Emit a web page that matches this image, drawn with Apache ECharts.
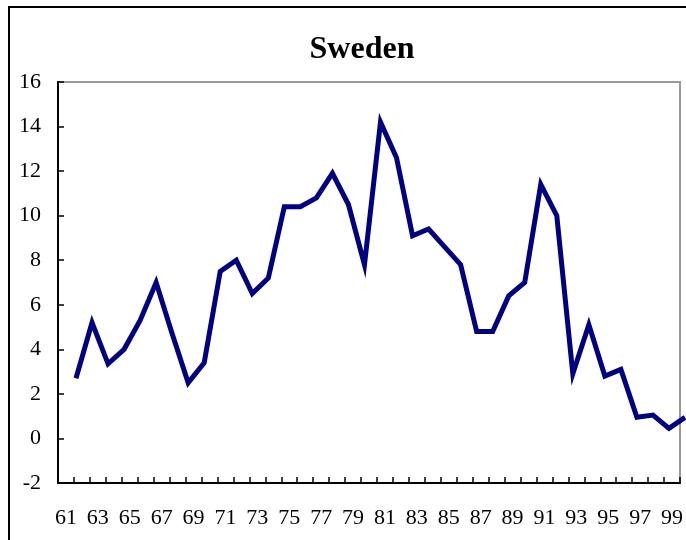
<!DOCTYPE html>
<html>
<head>
<meta charset="utf-8">
<script src="https://cdn.jsdelivr.net/npm/echarts@6/dist/echarts.min.js"></script>
<style>
  html, body { margin: 0; padding: 0; background: #fff; }
  #box { width: 686px; height: 540px; }
</style>
</head>
<body>
<div id="box"></div>
<script>
// years shown on the axis (two-digit)
var years = ['61','62','63','64','65','66','67','68','69','70','71','72','73','74','75','76','77','78','79','80',
             '81','82','83','84','85','86','87','88','89','90','91','92','93','94','95','96','97','98','99'];
// Sweden, values
var sweden = [2.7, 5.2, 3.35, 4.0, 5.3, 7.0, 4.7, 2.5, 3.4, 7.5, 8.0, 6.5, 7.2, 10.4, 10.4, 10.8, 11.9, 10.5, 7.8, 14.2,
              12.6, 9.1, 9.4, 8.6, 7.8, 4.8, 4.8, 6.4, 7.0, 11.4, 10.0, 2.9, 5.1, 2.8, 3.1, 0.95, 1.05, 0.45, 0.95];
var yMin = -2, yMax = 16, yStep = 2;

var chart = echarts.init(document.getElementById('box'));
var serif = '"Liberation Serif", "Times New Roman", serif';

var option = {
    backgroundColor: '#fff',
    animation: false,
    title: {
        text: 'Sweden',
        left: 357,
        top: 29,
        textAlign: 'center',
        textStyle: { fontFamily: serif, fontSize: 32, fontWeight: 'bold', color: '#000' }
    },
    graphic: [
        {
            type: 'rect',
            shape: { x: 9, y: 7, width: 720, height: 600 },
            style: { fill: 'none', stroke: '#000', lineWidth: 2 },
            z: 0
        }
    ],
    grid: [
        // visible frame, axes and labels
        { left: 58, right: 3, top: 82, bottom: 57, show: true, borderColor: '#999', borderWidth: 2, backgroundColor: 'transparent' },
        // the line itself sits a bit to the right of the labels, as in the picture
        { left: 76, right: 1, top: 82, bottom: 57 }
    ],
    xAxis: [
        {
            type: 'category',
            gridIndex: 0,
            data: years,
            boundaryGap: true,
            axisLine: { onZero: false, lineStyle: { color: '#000', width: 2 } },
            axisTick: { show: true, inside: true, length: 6, interval: 0, lineStyle: { color: '#000', width: 1.5 } },
            axisLabel: { interval: 1, margin: 24, fontFamily: serif, fontSize: 22, color: '#000' },
            splitLine: { show: false }
        },
        {
            type: 'category',
            gridIndex: 1,
            data: years,
            boundaryGap: false,
            show: false
        }
    ],
    yAxis: [
        {
            type: 'value',
            gridIndex: 0,
            min: yMin, max: yMax, interval: yStep,
            axisLine: { show: true, onZero: false, lineStyle: { color: '#000', width: 2 } },
            axisTick: { show: true, inside: true, length: 6, lineStyle: { color: '#000', width: 1.5 } },
            axisLabel: { margin: 17, fontFamily: serif, fontSize: 22, color: '#000' },
            splitLine: { show: false }
        },
        {
            type: 'value',
            gridIndex: 1,
            min: yMin, max: yMax, interval: yStep,
            show: false,
            splitLine: { show: false }
        }
    ],
    series: [
        {
            name: 'Sweden',
            type: 'line',
            xAxisIndex: 1,
            yAxisIndex: 1,
            data: sweden,
            symbol: 'none',
            clip: false,
            lineStyle: { color: '#000080', width: 5, join: 'miter' }
        }
    ]
};
chart.setOption(option);
</script>
</body>
</html>
